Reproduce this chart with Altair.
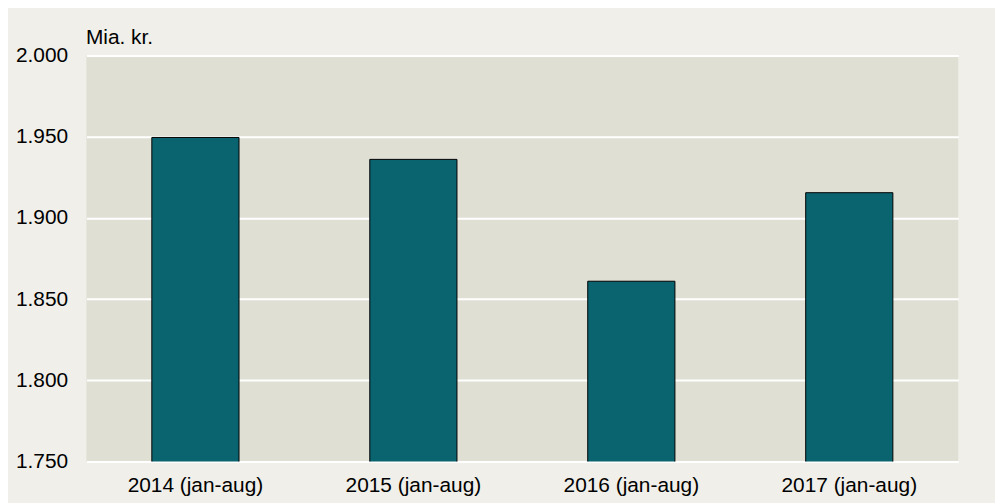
import altair as alt
import pandas as pd

categories = ["2014 (jan-aug)", "2015 (jan-aug)", "2016 (jan-aug)", "2017 (jan-aug)"]
values = [1949.5, 1936, 1861, 1915.5]

df = pd.DataFrame({"periode": categories, "vaerdi": values})

FONT = "Liberation Sans"

chart = alt.Chart(df).mark_bar(
    color="#09646f", stroke="#000000", strokeWidth=1, clip=True
).encode(
    x=alt.X("periode:N", sort=categories,
            scale=alt.Scale(paddingInner=0.6, paddingOuter=0.3),
            axis=alt.Axis(title=None, labelAngle=0, domain=False, ticks=False, tickSize=0,
                          labelPadding=13, labelFontSize=21, labelFont=FONT,
                          labelColor="#000000", grid=False)),
    y=alt.Y("vaerdi:Q",
            scale=alt.Scale(domain=[1750, 2000], nice=False, zero=False),
            axis=alt.Axis(values=[1750, 1800, 1850, 1900, 1950, 2000],
                          labelExpr="replace(format(datum.value, ','), ',', '.')",
                          domain=False, ticks=False, tickSize=0, labelPadding=19,
                          labelFontSize=21, labelFont=FONT, labelColor="#000000",
                          grid=True, gridColor="#ffffff", gridWidth=2, gridOpacity=1,
                          title="Mia. kr.", titleAngle=0, titleAlign="left",
                          titleBaseline="alphabetic", titleX=-1, titleY=-12,
                          titleFont=FONT, titleFontSize=21, titleFontWeight="normal",
                          titleColor="#000000")),
).properties(
    width=878,
    height=409,
    background="#f0efe9",
    padding={"left": 79, "top": 46, "right": 37, "bottom": 40},
    autosize=alt.AutoSizeParams(type="none"),
).configure_view(
    fill="#dfdfd4", stroke=None
)

chart.save("out.html", embed_options={"renderer": "svg", "actions": False})
